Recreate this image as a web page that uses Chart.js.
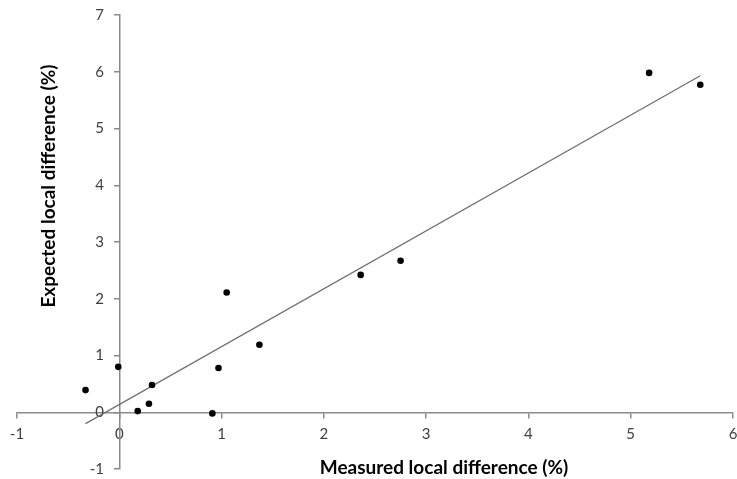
<!DOCTYPE html>
<html>
<head>
<meta charset="utf-8">
<script src="https://cdn.jsdelivr.net/npm/chart.js@4.4.0/dist/chart.umd.min.js"></script>
<style>
  html, body { margin: 0; padding: 0; background: #ffffff; }
  #wrap { width: 737px; height: 479px; position: relative; }
</style>
</head>
<body>
<div id="wrap"><canvas id="c" width="737" height="479"></canvas></div>
<script>
// Measured local difference (%) -> x
const measured = [-0.33, -0.01, 0.32, 0.29, 0.18, 0.91, 0.97, 1.05, 1.37, 2.36, 2.75, 5.18, 5.68];
// Expected local difference (%) -> y
const expected = [0.39, 0.80, 0.48, 0.15, 0.02, -0.02, 0.78, 2.11, 1.19, 2.42, 2.67, 5.98, 5.77];
// Linear trendline end points
const trendX = [-0.33, 5.68];
const trendY = [-0.20, 5.93];

const xTitle = 'Measured local difference (%)';
const yTitle = 'Expected local difference (%)';

const points = measured.map((v, i) => ({ x: v, y: expected[i] }));
const trend = trendX.map((v, i) => ({ x: v, y: trendY[i] }));

const titlePlugin = {
  id: 'axisTitles',
  afterDraw(chart) {
    const ctx = chart.ctx;
    ctx.save();
    ctx.fillStyle = '#000000';
    ctx.font = 'bold 19px Lato';
    ctx.textAlign = 'center';
    ctx.textBaseline = 'middle';
    ctx.fillText(xTitle, 444, 468);
    ctx.translate(49, 186);
    ctx.rotate(-Math.PI / 2);
    ctx.fillText(yTitle, 0, 0);
    ctx.restore();
  }
};

function zeroPad(scale) {
  scale.paddingLeft = 0; scale.paddingRight = 0;
  scale.paddingTop = 0; scale.paddingBottom = 0;
}

const gridOpts = { display: true, drawOnChartArea: false, drawTicks: true, tickLength: 5, color: '#8a8a8a', lineWidth: 1.5 };
const borderOpts = { display: true, color: '#8a8a8a', width: 1.5 };
const tickFont = { family: 'Lato', size: 15 };

new Chart(document.getElementById('c'), {
  type: 'scatter',
  data: {
    datasets: [
      {
        label: 'data',
        data: points,
        pointRadius: 3.3,
        pointBackgroundColor: '#000000',
        pointBorderColor: '#000000',
        pointBorderWidth: 0,
        showLine: false,
        order: 1
      },
      {
        label: 'trend',
        data: trend,
        showLine: true,
        borderColor: '#707070',
        borderWidth: 1.3,
        pointRadius: 0,
        fill: false,
        order: 2
      }
    ]
  },
  options: {
    responsive: false,
    animation: false,
    devicePixelRatio: 1,
    layout: { padding: { left: 17, right: 0, top: 15, bottom: 10 } },
    plugins: { legend: { display: false }, tooltip: { enabled: false }, title: { display: false } },
    scales: {
      x: {
        type: 'linear', min: -1, max: 6, position: { y: 0 },
        grid: gridOpts, border: borderOpts,
        afterFit: zeroPad,
        ticks: { color: '#404040', font: tickFont, padding: 8, stepSize: 1, maxRotation: 0, autoSkip: false }
      },
      y: {
        type: 'linear', min: -1, max: 7, position: { x: 0 },
        grid: gridOpts, border: borderOpts,
        afterFit: zeroPad,
        ticks: { color: '#404040', font: tickFont, stepSize: 1, autoSkip: false,
                 callback: (v) => v + '    ' }
      }
    }
  },
  plugins: [titlePlugin]
});
</script>
</body>
</html>
